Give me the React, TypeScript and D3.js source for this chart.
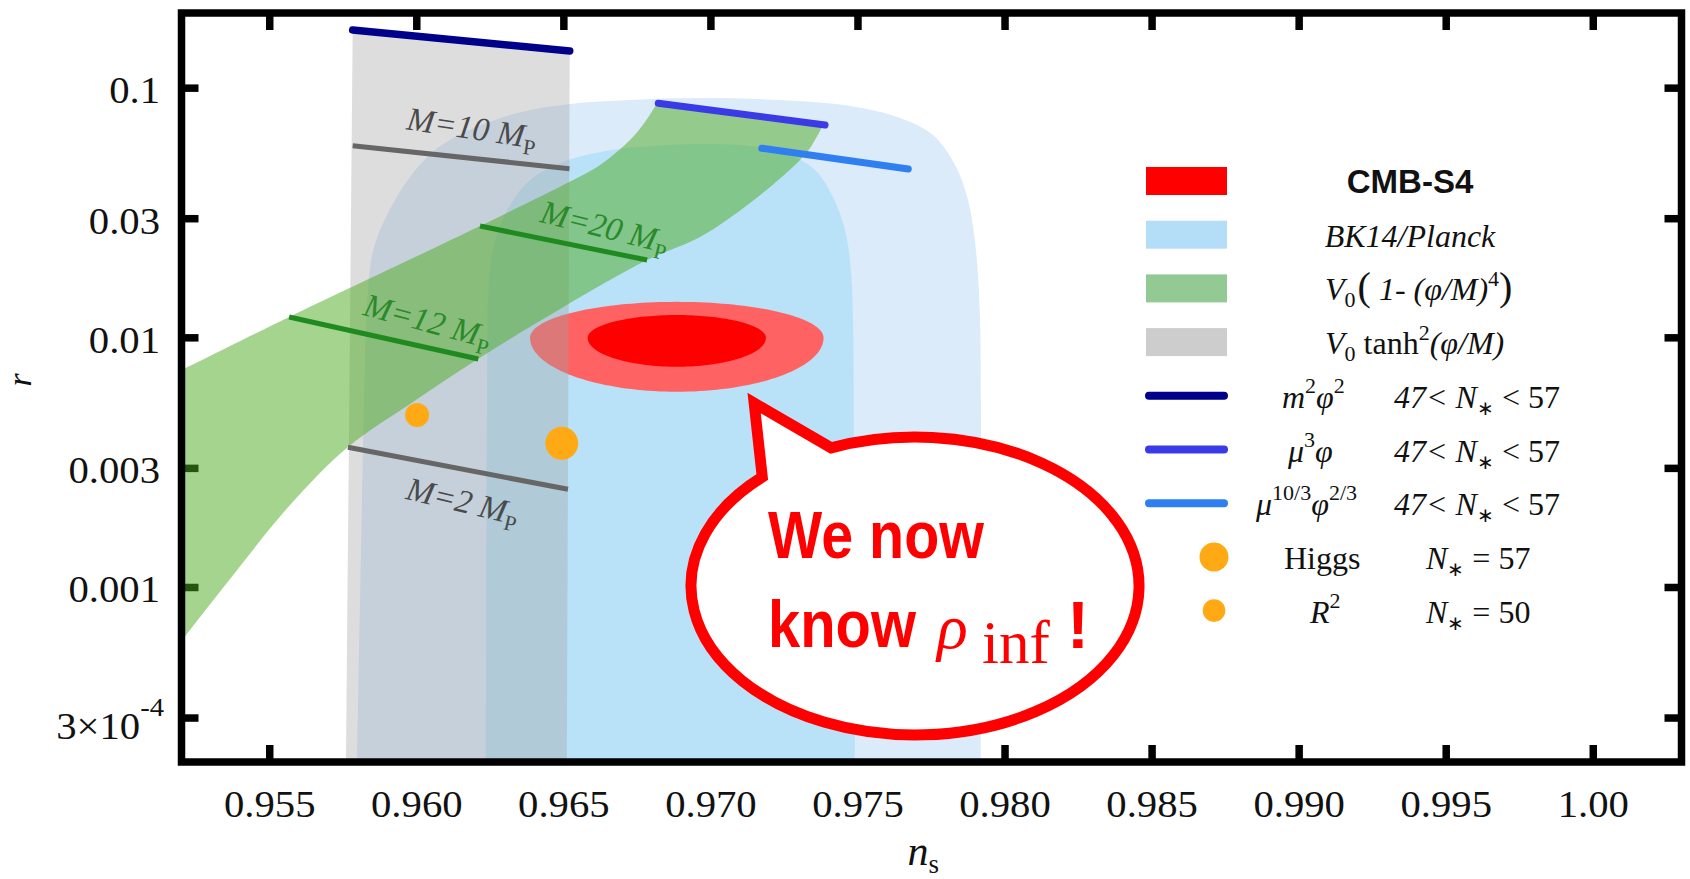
import React from "react";
import * as d3 from "d3";

type Pt = [number, number];

const WIDTH = 1690;
const HEIGHT = 879;

const NS_DOMAIN: [number, number] = [0.952, 1.003];
const R_DOMAIN: [number, number] = [2e-4, 0.2];

const nsTicks = [0.955, 0.96, 0.965, 0.97, 0.975, 0.98, 0.985, 0.99, 0.995, 1.0];
const nsTickLabels = ["0.955", "0.960", "0.965", "0.970", "0.975", "0.980", "0.985", "0.990", "0.995", "1.00"];
const rTicks = [0.1, 0.03, 0.01, 0.003, 0.001, 0.0003];
const rTickLabels = ["0.1", "0.03", "0.01", "0.003", "0.001", "3×10"];
const rTickExponents = ["", "", "", "", "", "-4"];

// BK14/Planck constraints: 95% (outer) and 68% (inner) regions
const bk14Outer: Pt[] = [
  [0.95797, 0.0002], [0.95807, 0.00089], [0.95817, 0.00355], [0.95827, 0.01075],
  [0.95834, 0.01554], [0.95848, 0.02147], [0.95875, 0.02702], [0.95926, 0.03565],
  [0.95987, 0.04572], [0.96062, 0.05654], [0.96157, 0.06614], [0.96341, 0.07954],
  [0.96521, 0.0864], [0.96725, 0.08965], [0.96963, 0.09132], [0.97235, 0.08965],
  [0.97473, 0.08483], [0.97643, 0.07596], [0.97755, 0.06493], [0.9783, 0.04924],
  [0.97874, 0.03565], [0.97901, 0.02247], [0.97915, 0.01179], [0.97918, 0.00564],
  [0.97918, 0.0002],
];
const bk14Inner: Pt[] = [
  [0.96235, 0.0002], [0.96239, 0.00564], [0.96246, 0.01705], [0.96266, 0.02465],
  [0.96317, 0.03404], [0.96385, 0.04286], [0.96487, 0.05015], [0.96623, 0.05551],
  [0.96793, 0.05865], [0.96963, 0.05975], [0.97133, 0.05865], [0.97269, 0.054],
  [0.97354, 0.04702], [0.97415, 0.03665], [0.97456, 0.02702], [0.97476, 0.01869],
  [0.97483, 0.01179], [0.97487, 0.00224], [0.9749, 0.0002],
];

// V0 tanh^2(phi/M) band (47 < N* < 57)
const tanhBand: Pt[] = [
  [0.95782, 0.171], [0.9652, 0.141], [0.9651, 0.0002], [0.95759, 0.0002], [0.95769, 0.0036],
];

// V0(1-(phi/M)^4) band: upper and lower edges
const quarticUpper: Pt[] = [
  [0.952, 0.00743], [0.95566, 0.01212], [0.96215, 0.02804], [0.96518, 0.04207],
  [0.96623, 0.04924], [0.96725, 0.06201], [0.96776, 0.07318], [0.96817, 0.0872],
];
const quarticLower: Pt[] = [
  [0.97378, 0.0699], [0.97344, 0.05921], [0.97303, 0.05157], [0.97133, 0.03467],
  [0.96963, 0.02534], [0.96783, 0.02049], [0.96487, 0.01305], [0.96208, 0.008227],
  [0.95977, 0.00543], [0.95766, 0.003653], [0.95569, 0.00214], [0.95365, 0.001081],
  [0.952, 0.00061],
];

// Monomial potentials, 47 < N* < 57
const m2phi2Line: Pt[] = [[0.95782, 0.171], [0.9652, 0.141]];
const mu3phiLine: Pt[] = [[0.96821, 0.08697], [0.97388, 0.0712]];
const mu103Line: Pt[] = [[0.97173, 0.05742], [0.97671, 0.04746]];

// Fixed-M lines
const tanhM10: Pt[] = [[0.95782, 0.05882], [0.96519, 0.04759]];
const tanhM2: Pt[] = [[0.95766, 0.003643], [0.96514, 0.002474]];
const quarticM20: Pt[] = [[0.96215, 0.02804], [0.96783, 0.02049]];
const quarticM12: Pt[] = [[0.95566, 0.01212], [0.96209, 0.008227]];

const higgsPoint: Pt = [0.96493, 0.00378];
const r2Point: Pt = [0.96001, 0.004908];

// CMB-S4 forecast (log-r half heights in decades)
const cmbCenter: Pt = [0.96884, 0.01];
const cmbOuter = { halfWidth: 0.00499, up: 0.144, down: 0.216 };
const cmbInner = { halfWidth: 0.00303, up: 0.0913, down: 0.1158 };

const bubbleCenter: Pt = [0.97694, 0.001014];
const bubbleTip: Pt = [0.97147, 0.00548];

const COLORS = {
  outer: "#dcebfa",
  inner: "#b9e2f8",
  grey: "#a0a0a0",
  green: "rgb(75,170,30)",
  redOuter: "#ff6262",
  redInner: "#ff0000",
  navy: "#00008b",
  blue: "#3a3ae6",
  lightBlue: "#2f7ff0",
  darkGreen: "#1f8a1f",
  greyLine: "#666666",
  orange: "#ffaa14",
};

const SERIF = "'Liberation Serif', 'Times New Roman', serif";
const SANS = "'Liberation Sans', Arial, sans-serif";

function eggPoints(c: Pt, e: { halfWidth: number; up: number; down: number }, n = 160): Pt[] {
  const pts: Pt[] = [];
  for (let i = 0; i < n; i++) {
    const t = (i / n) * 2 * Math.PI;
    const s = Math.sin(t);
    const lr = Math.log10(c[1]) + (s > 0 ? e.up : e.down) * s;
    pts.push([c[0] + e.halfWidth * Math.cos(t), Math.pow(10, lr)]);
  }
  return pts;
}

export default function App() {
  const x = d3.scaleLinear().domain(NS_DOMAIN).range([181.5, 1681.5]);
  const y = d3.scaleLog().domain(R_DOMAIN).range([762, 13]);
  const [x0, x1] = x.range();
  const [y1, y0] = y.range();

  const smooth = d3
    .line<Pt>()
    .x((d) => x(d[0]))
    .y((d) => y(d[1]))
    .curve(d3.curveCatmullRom.alpha(0.5));
  const straight = d3
    .line<Pt>()
    .x((d) => x(d[0]))
    .y((d) => y(d[1]));
  const closed = d3
    .line<Pt>()
    .x((d) => x(d[0]))
    .y((d) => y(d[1]))
    .curve(d3.curveLinearClosed);

  const quarticPath =
    (smooth(quarticUpper) as string) + (smooth(quarticLower) as string).replace(/^M/, "L") + "Z";

  const modelLines = [
    { pts: m2phi2Line, color: COLORS.navy, w: 7.5 },
    { pts: mu3phiLine, color: COLORS.blue, w: 7 },
    { pts: mu103Line, color: COLORS.lightBlue, w: 7 },
  ];
  const mLines = [
    { pts: tanhM10, color: COLORS.greyLine, text: "M=10 M", t: 0.23, off: -22, tc: "#4a4a4a" },
    { pts: tanhM2, color: COLORS.greyLine, text: "M=2 M", t: 0.3, off: 40, tc: "#4a4a4a" },
    { pts: quarticM20, color: COLORS.darkGreen, text: "M=20 M", t: 0.33, off: -16, tc: "#2a8a2a" },
    { pts: quarticM12, color: COLORS.darkGreen, text: "M=12 M", t: 0.36, off: -18, tc: "#2a8a2a" },
  ];

  // speech bubble geometry
  const bcx = x(bubbleCenter[0]);
  const bcy = y(bubbleCenter[1]);
  const brx = 224;
  const bry = 149;
  const a1 = (-112 * Math.PI) / 180;
  const a2 = (-133 * Math.PI) / 180;
  const p1 = [bcx + brx * Math.cos(a1), bcy + bry * Math.sin(a1)];
  const p2 = [bcx + brx * Math.cos(a2), bcy + bry * Math.sin(a2)];
  const tip = [x(bubbleTip[0]), y(bubbleTip[1])];
  const bubblePath = `M${p1[0]},${p1[1]} A${brx},${bry} 0 1 1 ${p2[0]},${p2[1]} L${tip[0]},${tip[1]} Z`;

  const rowY = (i: number) => 181 + i * 53.7;
  const swX = 1146;
  const swW = 81;
  const lfs = 32;

  return (
    <svg
      width={WIDTH}
      height={HEIGHT}
      viewBox={`0 0 ${WIDTH} ${HEIGHT}`}
      style={{ position: "absolute", left: 0, top: 0, background: "#fff" }}
    >
      <defs>
        <clipPath id="plotClip">
          <rect x={x0} y={y0} width={x1 - x0} height={y1 - y0} />
        </clipPath>
      </defs>
      <rect width={WIDTH} height={HEIGHT} fill="#fff" />

      {/* ticks (drawn under the shaded regions) */}
      <g stroke="#000" strokeWidth={7.5}>
        {nsTicks.map((t) => (
          <g key={"xt" + t}>
            <line x1={x(t)} x2={x(t)} y1={y1} y2={y1 - 17} />
            <line x1={x(t)} x2={x(t)} y1={y0} y2={y0 + 17} />
          </g>
        ))}
        {rTicks.map((t) => (
          <g key={"yt" + t}>
            <line x1={x0} x2={x0 + 17} y1={y(t)} y2={y(t)} />
            <line x1={x1} x2={x1 - 17} y1={y(t)} y2={y(t)} />
          </g>
        ))}
      </g>

      <g clipPath="url(#plotClip)">
        <path d={(smooth(bk14Outer) as string) + "Z"} fill={COLORS.outer} />
        <path d={(smooth(bk14Inner) as string) + "Z"} fill={COLORS.inner} />
        <path d={closed(eggPoints(cmbCenter, cmbOuter)) as string} fill={COLORS.redOuter} />
        <path d={closed(eggPoints(cmbCenter, cmbInner)) as string} fill={COLORS.redInner} />
        <path d={straight(tanhBand) + "Z"} fill={COLORS.grey} fillOpacity={0.36} />
        <path d={quarticPath} fill={COLORS.green} fillOpacity={0.5} />

        {mLines.map((m, i) => (
          <path key={"ml" + i} d={straight(m.pts) as string} stroke={m.color} strokeWidth={5} fill="none" />
        ))}
        {modelLines.map((m, i) => (
          <path
            key={"mod" + i}
            d={straight(m.pts) as string}
            stroke={m.color}
            strokeWidth={m.w}
            strokeLinecap="round"
            fill="none"
          />
        ))}

        {mLines.map((m, i) => {
          const ax = x(m.pts[0][0]);
          const ay = y(m.pts[0][1]);
          const bx = x(m.pts[1][0]);
          const by = y(m.pts[1][1]);
          const ang = (Math.atan2(by - ay, bx - ax) * 180) / Math.PI + 2.5;
          const px = ax + m.t * (bx - ax);
          const py = ay + m.t * (by - ay);
          return (
            <text
              key={"mlab" + i}
              transform={`translate(${px},${py}) rotate(${ang})`}
              y={m.off}
              fontFamily={SERIF}
              fontSize={33}
              fill={m.tc}
            >
              <tspan fontStyle="italic">{m.text}</tspan>
              <tspan fontSize={22} dy={7}>P</tspan>
            </text>
          );
        })}

        <circle cx={x(r2Point[0])} cy={y(r2Point[1])} r={12} fill={COLORS.orange} />
        <circle cx={x(higgsPoint[0])} cy={y(higgsPoint[1])} r={16.5} fill={COLORS.orange} />

        {/* speech bubble */}
        <path
          d={bubblePath}
          fill="#fff"
          stroke="#ff0000"
          strokeWidth={11}
          strokeLinejoin="miter"
          strokeMiterlimit={10}
        />
        <text
          x={bcx - 147}
          y={bcy - 28}
          fontFamily={SANS}
          fontWeight="bold"
          fontSize={66}
          fill="#ff0000"
          textLength={216}
          lengthAdjust="spacingAndGlyphs"
        >
          We now
        </text>
        <text
          x={bcx - 147}
          y={bcy + 61}
          fontFamily={SANS}
          fontWeight="bold"
          fontSize={66}
          fill="#ff0000"
          textLength={148}
          lengthAdjust="spacingAndGlyphs"
        >
          know
        </text>
        <text x={bcx + 22} y={bcy + 62} fontFamily={SERIF} fontStyle="italic" fontSize={64} fill="#ff0000">
          ρ
        </text>
        <text x={bcx + 67} y={bcy + 77} fontFamily={SERIF} fontSize={61} fill="#ff0000">
          inf
        </text>
        <text x={bcx + 152} y={bcy + 62} fontFamily={SANS} fontWeight="bold" fontSize={66} fill="#ff0000">
          !
        </text>
      </g>

      {/* frame */}
      <rect x={x0} y={y0} width={x1 - x0} height={y1 - y0} fill="none" stroke="#000" strokeWidth={7.5} />

      {/* tick labels */}
      <g fontFamily={SERIF} fontSize={37} fill="#111">
        {nsTicks.map((t, i) => (
          <text key={"xl" + t} transform={`translate(${x(t)},817) scale(1.1,1)`} textAnchor="middle">
            {nsTickLabels[i]}
          </text>
        ))}
        {rTicks.map((t, i) =>
          rTickExponents[i] ? (
            <text key={"yl" + t} transform={`translate(164,${y(t) + 21}) scale(1.1,1)`} textAnchor="end">
              {rTickLabels[i]}
              <tspan fontSize={26} dy={-23}>
                {rTickExponents[i]}
              </tspan>
            </text>
          ) : (
            <text key={"yl" + t} transform={`translate(160,${y(t) + 15}) scale(1.1,1)`} textAnchor="end">
              {rTickLabels[i]}
            </text>
          )
        )}
      </g>

      {/* axis titles */}
      <text x={(x0 + x1) / 2 - 24} y={865} fontFamily={SERIF} fontSize={42} fill="#111">
        <tspan fontStyle="italic">n</tspan>
        <tspan fontSize={27} dy={8}>s</tspan>
      </text>
      <text
        transform={`translate(31,380) rotate(-90)`}
        textAnchor="middle"
        fontFamily={SERIF}
        fontStyle="italic"
        fontSize={34}
        fill="#111"
      >
        r
      </text>

      {/* legend */}
      <g fontFamily={SERIF} fontSize={lfs} fill="#111">
        <rect x={swX} y={rowY(0) - 14} width={swW} height={28} fill="#ff0000" />
        <rect x={swX} y={rowY(1) - 14} width={swW} height={28} fill="#b4def8" />
        <rect x={swX} y={rowY(2) - 14} width={swW} height={28} fill="#93c993" />
        <rect x={swX} y={rowY(3) - 14} width={swW} height={28} fill="#cdcdcd" />
        <line x1={swX + 3} x2={swX + 78} y1={rowY(4)} y2={rowY(4)} stroke={COLORS.navy} strokeWidth={8} strokeLinecap="round" />
        <line x1={swX + 3} x2={swX + 78} y1={rowY(5)} y2={rowY(5)} stroke={COLORS.blue} strokeWidth={8} strokeLinecap="round" />
        <line x1={swX + 3} x2={swX + 78} y1={rowY(6)} y2={rowY(6)} stroke={COLORS.lightBlue} strokeWidth={8} strokeLinecap="round" />
        <circle cx={1214} cy={rowY(7)} r={14.5} fill={COLORS.orange} />
        <circle cx={1214} cy={rowY(8)} r={11.3} fill={COLORS.orange} />

        <text x={1410} y={rowY(0) + 12} textAnchor="middle" fontFamily={SANS} fontWeight="bold" fontSize={33}>
          CMB-S4
        </text>
        <text x={1410} y={rowY(1) + 12} textAnchor="middle" fontStyle="italic">
          BK14/Planck
        </text>
        <text x={1325} y={rowY(2) + 12}>
          <tspan fontStyle="italic">V</tspan>
          <tspan fontSize={22} dy={7}>0</tspan>
          <tspan fontSize={40} dy={-7} dx={2}>(</tspan>
          <tspan fontStyle="italic"> 1- (φ/M)</tspan>
          <tspan fontSize={22} dy={-14}>4</tspan>
          <tspan fontSize={40} dy={14}>)</tspan>
        </text>
        <text x={1325} y={rowY(3) + 12}>
          <tspan fontStyle="italic">V</tspan>
          <tspan fontSize={22} dy={7}>0</tspan>
          <tspan dy={-7}> tanh</tspan>
          <tspan fontSize={22} dy={-14}>2</tspan>
          <tspan fontStyle="italic" dy={14}>(φ/M)</tspan>
        </text>

        <text x={1282} y={rowY(4) + 12}>
          <tspan fontStyle="italic">m</tspan>
          <tspan fontSize={22} dy={-15}>2</tspan>
          <tspan fontStyle="italic" dy={15}>φ</tspan>
          <tspan fontSize={22} dy={-15}>2</tspan>
        </text>
        <text x={1288} y={rowY(5) + 12}>
          <tspan fontStyle="italic">μ</tspan>
          <tspan fontSize={22} dy={-15}>3</tspan>
          <tspan fontStyle="italic" dy={15}>φ</tspan>
        </text>
        <text x={1256} y={rowY(6) + 12}>
          <tspan fontStyle="italic">μ</tspan>
          <tspan fontSize={22} dy={-15}>10/3</tspan>
          <tspan fontStyle="italic" dy={15}>φ</tspan>
          <tspan fontSize={22} dy={-15}>2/3</tspan>
        </text>
        {[4, 5, 6].map((i) => (
          <text key={"nr" + i} x={1394} y={rowY(i) + 12}>
            <tspan fontStyle="italic">47&lt; N</tspan>
            <tspan fontSize={20} dy={7}>∗</tspan>
            <tspan dy={-7}> &lt; 57</tspan>
          </text>
        ))}
        <text x={1284} y={rowY(7) + 12}>Higgs</text>
        <text x={1310} y={rowY(8) + 12}>
          <tspan fontStyle="italic">R</tspan>
          <tspan fontSize={22} dy={-15}>2</tspan>
        </text>
        <text x={1426} y={rowY(7) + 12}>
          <tspan fontStyle="italic">N</tspan>
          <tspan fontSize={20} dy={7}>∗</tspan>
          <tspan dy={-7}> = 57</tspan>
        </text>
        <text x={1426} y={rowY(8) + 12}>
          <tspan fontStyle="italic">N</tspan>
          <tspan fontSize={20} dy={7}>∗</tspan>
          <tspan dy={-7}> = 50</tspan>
        </text>
      </g>
    </svg>
  );
}
